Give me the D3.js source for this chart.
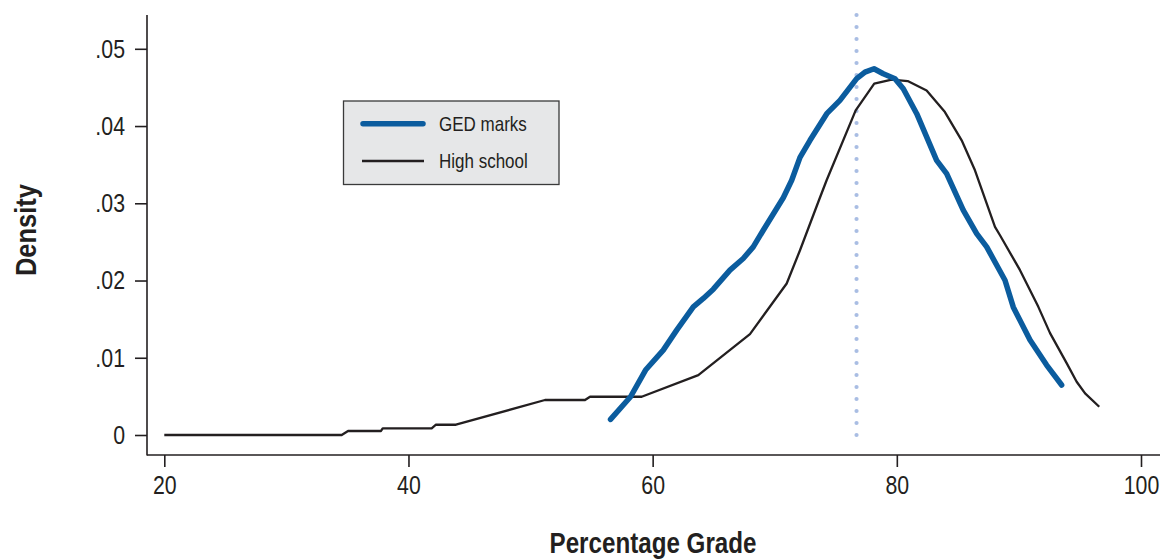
<!DOCTYPE html>
<html><head><meta charset="utf-8">
<script src="https://cdn.jsdelivr.net/npm/d3@7"></script>
<style>
html,body{margin:0;padding:0;background:#fff;}
svg{display:block;}
text{font-family:"Liberation Sans",Arial,sans-serif;fill:#231f20;}
</style></head>
<body>
<svg id="c" width="1160" height="559"></svg>
<script>
// High school density curve
const hsX = [20,34.53,35.05,37.75,37.89,41.90,42.25,43.89,51.18,54.46,54.87,59.10,63.74,67.97,70.98,72.07,73.62,74.25,76.63,78.15,79.58,80.89,82.44,83.94,85.31,86.40,88.04,88.45,90.09,91.59,92.55,93.91,94.73,95.42,96.58];
const hsY = [0,0,.00052,.00052,.00087,.00087,.00133,.00133,.00453,.00453,.00495,.00495,.00776,.01306,.01962,.02392,.03039,.03298,.04203,.04548,.04600,.04582,.04461,.04181,.03815,.03427,.02694,.02586,.02134,.01659,.01319,.00931,.00689,.00539,.00366];
// GED marks density curve
const gedX = [56.55,58.19,59.42,60.87,61.97,63.33,64.15,64.97,66.33,67.42,68.24,69.06,70.70,71.39,72.07,72.89,74.26,75.34,76.71,77.39,78.13,78.89,79.85,80.53,81.63,83.26,84.08,85.44,86.54,87.36,88.86,89.54,90.91,92.27,93.50];
const gedY = [.00203,.00495,.00841,.01099,.01358,.01659,.01768,.01888,.02134,.02285,.02435,.02651,.03071,.03298,.03595,.03815,.04160,.04332,.04613,.04698,.04742,.04677,.04613,.04483,.04160,.03556,.03384,.02910,.02608,.02435,.02004,.01655,.01229,.00905,.00647];
const meanLine = [76.7];
const xTicks = [20,40,60,80,100];
const yTicks = [0,.01,.02,.03,.04,.05];
const yTickLabels = ["0",".01",".02",".03",".04",".05"];
const seriesNames = ["GED marks","High school"];

const ink = "#231f20", blue = "#0b5c9e", dotBlue = "#a9bde3";
const svg = d3.select("#c");
const x = d3.scaleLinear().domain([20,100]).range([164.3,1141]);
const y = d3.scaleLinear().domain([0,.05]).range([435,48.8]);
const axisX0 = 147, axisY0 = 455;

// condense text horizontally (narrow grotesque look)
function narrow(sel, sx){
  sel.each(function(){
    const t = d3.select(this);
    const ox = +(t.attr("x")||0);
    t.attr("x", ox/sx).attr("transform", `scale(${sx},1)`);
  });
}

// axis lines
svg.append("line").attr("x1",axisX0).attr("x2",axisX0).attr("y1",15).attr("y2",axisY0+0.5)
  .attr("stroke",ink).attr("stroke-width",1.6);
svg.append("line").attr("x1",axisX0).attr("x2",1160).attr("y1",axisY0).attr("y2",axisY0)
  .attr("stroke",ink).attr("stroke-width",1.6);

// y axis ticks
const gy = svg.append("g").attr("transform",`translate(${axisX0},0)`)
  .call(d3.axisLeft(y).tickValues(yTicks).tickSize(12).tickPadding(10)
    .tickFormat((d,i)=>yTickLabels[i]));
gy.select(".domain").remove();
gy.selectAll(".tick line").attr("stroke",ink).attr("stroke-width",1.6);
gy.selectAll(".tick text").attr("font-size",26).attr("fill",ink)
  .style("font-family",'"Liberation Sans",Arial,sans-serif').call(narrow,0.82);

// x axis ticks
const gx = svg.append("g").attr("transform",`translate(0,${axisY0})`)
  .call(d3.axisBottom(x).tickValues(xTicks).tickSize(12).tickPadding(9).tickFormat(d3.format("d")));
gx.select(".domain").remove();
gx.selectAll(".tick line").attr("stroke",ink).attr("stroke-width",1.6);
gx.selectAll(".tick text").attr("font-size",26).attr("fill",ink)
  .style("font-family",'"Liberation Sans",Arial,sans-serif').call(narrow,0.82);

// axis titles
svg.append("text").attr("transform","translate(653,553) scale(0.82,1)").attr("text-anchor","middle")
  .attr("font-size",29.5).attr("font-weight","bold").text("Percentage Grade");
svg.append("text").attr("transform","translate(36,230) rotate(-90) scale(0.85,1)").attr("text-anchor","middle")
  .attr("font-size",30).attr("font-weight","bold").text("Density");

// dotted vertical line
svg.append("line").attr("x1",x(meanLine[0])).attr("x2",x(meanLine[0])).attr("y1",15).attr("y2",443)
  .attr("stroke",dotBlue).attr("stroke-width",4.2).attr("stroke-linecap","round")
  .attr("stroke-dasharray","0 12");

const line = d3.line().x(d=>x(d[0])).y(d=>y(d[1]));
const hs = hsX.map((v,i)=>[v,hsY[i]]);
const ged = gedX.map((v,i)=>[v,gedY[i]]);

svg.append("path").datum(hs).attr("d",line).attr("fill","none").attr("stroke",ink)
  .attr("stroke-width",2.3).attr("stroke-linejoin","round");
svg.append("path").datum(ged).attr("d",line).attr("fill","none").attr("stroke",blue)
  .attr("stroke-width",5.5).attr("stroke-linejoin","round").attr("stroke-linecap","round");

// legend
const lg = svg.append("g");
lg.append("rect").attr("x",343.5).attr("y",101).attr("width",215.5).attr("height",83.5)
  .attr("fill","#e6e7e8").attr("stroke","#3a3a3a").attr("stroke-width",1.3);
lg.append("line").attr("x1",363).attr("x2",423).attr("y1",123.7).attr("y2",123.7)
  .attr("stroke",blue).attr("stroke-width",5.5).attr("stroke-linecap","round");
lg.append("line").attr("x1",362).attr("x2",424).attr("y1",161).attr("y2",161)
  .attr("stroke",ink).attr("stroke-width",2.3);
lg.append("text").attr("transform","translate(439,131) scale(0.85,1)").attr("font-size",20).text(seriesNames[0]);
lg.append("text").attr("transform","translate(439,168) scale(0.85,1)").attr("font-size",20).text(seriesNames[1]);
</script>
</body></html>
